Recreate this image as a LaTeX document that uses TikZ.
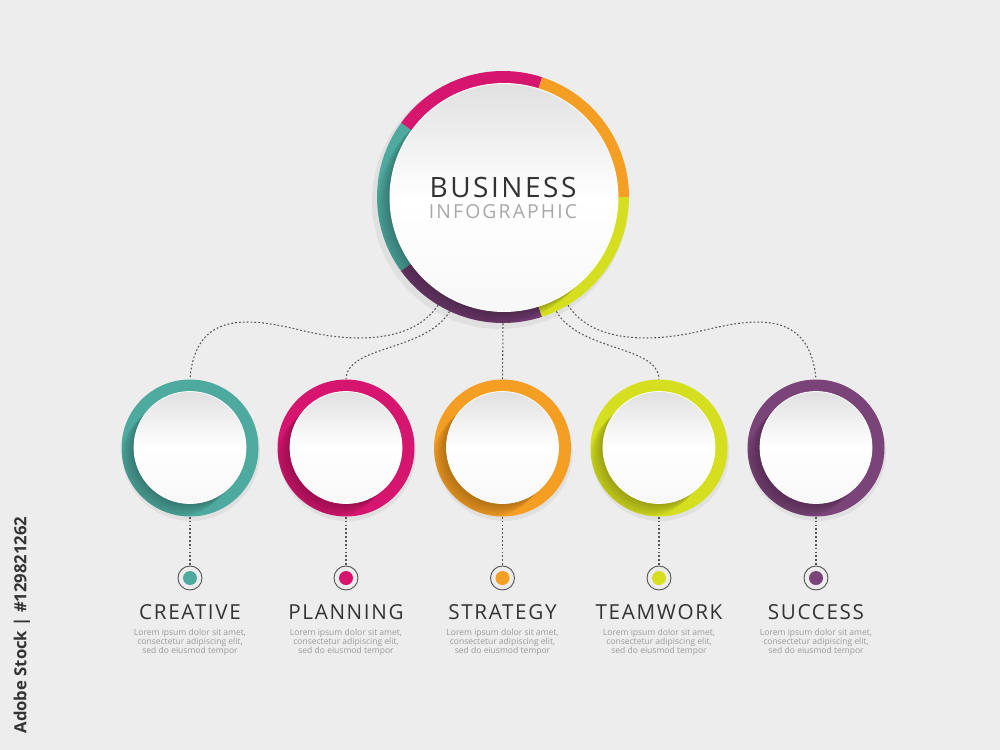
\documentclass[tikz,border=0pt]{standalone}
\usepackage{fontspec}
\setmainfont{Open Sans}
\newfontfamily\titlefont[LetterSpace=9]{Open Sans}
\newfontfamily\subfont[LetterSpace=11]{Open Sans}
\newfontfamily\labfont[LetterSpace=8]{Open Sans}
\definecolor{bg}{HTML}{EDEDED}
\definecolor{cTeal}{HTML}{4EAA9F}
\definecolor{cMag}{HTML}{D6156F}
\definecolor{cOra}{HTML}{F59E24}
\definecolor{cLim}{HTML}{D5DF20}
\definecolor{cPur}{HTML}{6F3B6E}
\definecolor{cPurS}{HTML}{7A4478}
\definecolor{dotc}{HTML}{555555}
\definecolor{txtd}{HTML}{333333}
\definecolor{txtl}{HTML}{A8A8A8}
\definecolor{desc}{HTML}{9A9A9A}
\tikzset{
  dotline/.style={draw=dotc, line width=0.8pt, dash pattern=on 1.3pt off 1.6pt},
  ringnode/.style={circle, inner sep=0pt, minimum size=102.75pt, draw=none},
  bignode/.style={circle, inner sep=0pt, minimum size=189pt, draw=none},
  marknode/.style={circle, inner sep=0pt, minimum size=18pt, draw=dotc, line width=0.7pt},
  labtext/.style={font=\labfont\fontsize{15.5}{18}\selectfont, text=txtd},
  desctext/.style={font=\fontsize{6.4}{6.8}\selectfont, text=desc, align=center}
}
\newcommand{\smallring}[3]{% x, color, name
  \fill[black,opacity=0.05] (#1+1,452) circle[radius=69];
  \fill[#2] (#1,448) circle[radius=68.5];
  \begin{scope}
    \clip (#1,448) circle[radius=68.5];
    \foreach \k in {1,...,7}{
      \fill[black,opacity=0.04] (#1-2*\k,447.5+2*\k) circle[radius=56];
    }
  \end{scope}
  \shade[top color=black!12, bottom color=black!3, middle color=white] (#1,447.5) circle[radius=56];
  \draw[white, line width=0.6pt] (#1,447.5) circle[radius=56];
  \node[ringnode] (#3) at (#1,448) {};
}
\newcommand{\stepitem}[5]{% x, color, name, label, markername
  \node[marknode] (#5) at (#1,578) {};
  \fill[#2] (#5.center) circle[radius=7];
  \node[labtext] (lab#3) at (#1,612) {#4};
  \node[desctext] (desc#3) at (#1,642.5) {Lorem ipsum dolor sit amet,\\consectetur adipiscing elit,\\sed do eiusmod tempor};
  \draw[dotline] (#3.south) -- (#5.north);
}
\begin{document}
\begin{tikzpicture}[x=0.75pt,y=-0.75pt]
\fill[bg] (0,0) rectangle (1000,750);
\useasboundingbox (0,0) rectangle (1000,750);

% big ring
\fill[black,opacity=0.05] (500,201) circle[radius=128];
\fill[cOra] (503,197) -- +(0:126) arc[start angle=0, end angle=-72, radius=126] -- cycle;
\fill[cMag] (503,197) -- +(-72:126) arc[start angle=-72, end angle=-144, radius=126] -- cycle;
\fill[cTeal] (503,197) -- +(-144:126) arc[start angle=-144, end angle=-216, radius=126] -- cycle;
\fill[cPur] (503,197) -- +(-216:126) arc[start angle=-216, end angle=-288, radius=126] -- cycle;
\fill[cLim] (503,197) -- +(-288:126) arc[start angle=-288, end angle=-360, radius=126] -- cycle;
\begin{scope}
  \clip (503,197) circle[radius=126];
  \foreach \k in {1,...,7}{
    \fill[black,opacity=0.04] (504-2*\k,197.5+2*\k) circle[radius=114];
  }
\end{scope}
\shade[top color=black!12, bottom color=black!3, middle color=white] (504,197.5) circle[radius=114];
\draw[white, line width=0.7pt] (504,197.5) circle[radius=114];
\node[bignode] (big) at (503,197) {};
\node[font=\titlefont\fontsize{21}{24}\selectfont, text=txtd] (t1) at (503,187) {BUSINESS};
\node[font=\subfont\fontsize{14.5}{17}\selectfont, text=txtl] (t2) at (503,212) {INFOGRAPHIC};

% small rings
\smallring{190}{cTeal}{r1}
\smallring{346}{cMag}{r2}
\smallring{502.5}{cOra}{r3}
\smallring{659}{cLim}{r4}
\smallring{816}{cPurS}{r5}

% connectors
\draw[dotline] (big.-121) .. controls (415,340) and (360,345) .. (300,330)
   .. controls (250,318) and (195,310) .. (r1.north);
\draw[dotline] (big.-115) .. controls (425,352) and (347,345) .. (r2.north);
\draw[dotline] (big.south) -- (r3.north);
\draw[dotline] (big.-65) .. controls (580,352) and (658,345) .. (r4.north);
\draw[dotline] (big.-59) .. controls (590,340) and (645,345) .. (705,330)
   .. controls (755,318) and (810,310) .. (r5.north);

% items
\stepitem{190}{cTeal}{r1}{CREATIVE}{m1}
\stepitem{346}{cMag}{r2}{PLANNING}{m2}
\stepitem{502.5}{cOra}{r3}{STRATEGY}{m3}
\stepitem{659}{cLim}{r4}{TEAMWORK}{m4}
\stepitem{816}{cPurS}{r5}{SUCCESS}{m5}

% side text
\node[rotate=90, font=\bfseries\fontsize{12.5}{14}\selectfont, text=txtd] (stock) at (22,625) {Adobe Stock | \#129821262};
\end{tikzpicture}
\end{document}
